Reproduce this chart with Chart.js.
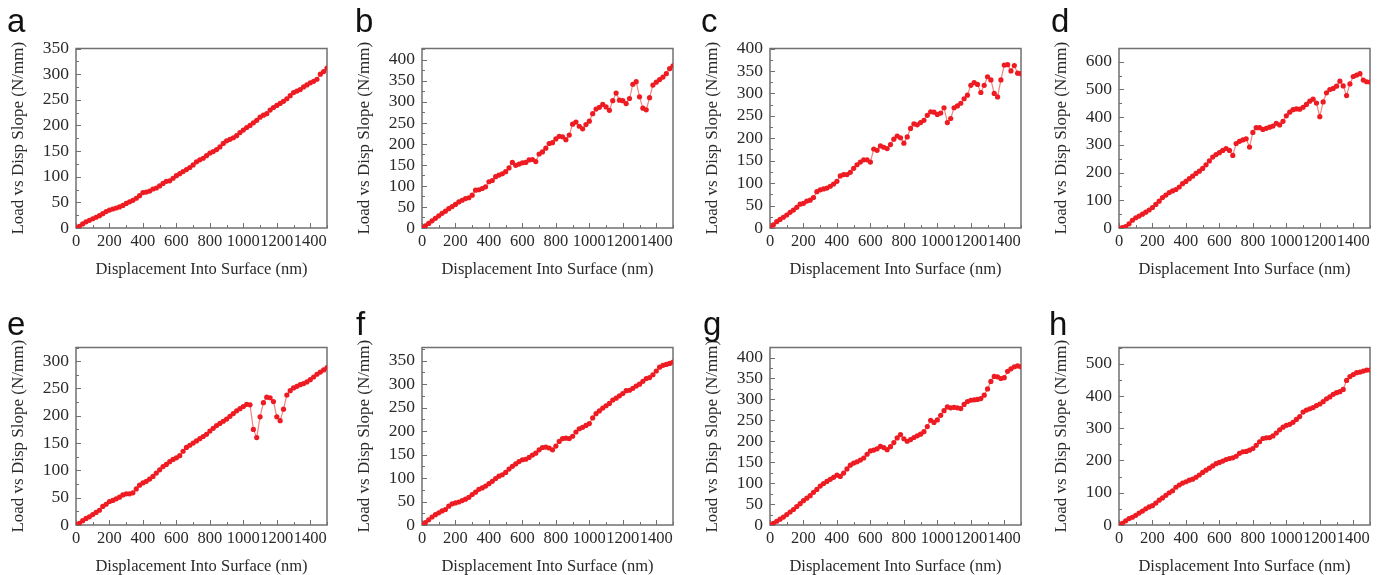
<!DOCTYPE html>
<html lang="en">
<head>
<meta charset="UTF-8" />
<title>Load vs Disp Slope</title>
<script src="https://cdn.jsdelivr.net/npm/chart.js@4.4.1/dist/chart.umd.min.js"></script>
<style>
  html, body { margin: 0; padding: 0; background: #fff; overflow: hidden; }
  body { width: 1379px; height: 575px; position: relative; }
  canvas { position: absolute; }
  .tag { position: absolute; font-family: "Liberation Sans", Arial, sans-serif; font-size: 33px; line-height: 1; color: #111; }
</style>
</head>
<body>
<script>
// displacement into surface (nm), shared by all panels
const depth = [0,20,40,60,80,100,120,140,160,180,200,220,240,260,280,300,320,340,360,380,
  400,420,440,460,480,500,520,540,560,580,600,620,640,660,680,700,720,740,760,780,
  800,820,840,860,880,900,920,940,960,980,1000,1020,1040,1060,1080,1100,1120,1140,1160,1180,
  1200,1220,1240,1260,1280,1300,1320,1340,1360,1380,1400,1420,1440,1460,1480,1500];

// load vs disp slope (N/mm) per panel
const slopeA = [0,3,8,12,15,18,21,24,28,32,35,37,39,41,44,48,51,54,58,63,
  69,70,72,76,78,82,87,91,92,97,102,106,110,114,118,123,129,133,136,141,
  146,149,153,158,165,170,173,176,180,186,191,196,200,205,210,216,220,223,230,235,
  239,243,247,252,258,264,267,270,275,279,283,286,290,300,305,312];
const slopeB = [0,5,11,17,23,29,35,40,46,51,56,62,66,70,72,78,90,91,94,98,
  110,113,122,126,129,134,143,156,149,152,155,156,162,163,158,176,181,190,201,203,
  212,218,217,210,221,247,252,242,236,246,254,272,283,287,294,288,280,303,321,304,
  303,296,308,342,348,312,285,281,310,340,347,353,359,367,379,386];
const slopeC = [0,7,14,19,24,29,35,40,46,53,55,60,62,68,81,85,87,89,93,98,
  104,116,119,119,124,133,141,147,152,152,147,176,173,183,180,177,186,198,205,201,
  189,203,222,232,230,235,240,251,259,258,253,256,268,235,244,268,272,278,288,296,
  318,324,320,302,318,337,330,300,292,330,363,364,350,362,345,344];
const slopeD = [0,1,5,15,28,37,43,50,57,65,74,85,97,110,119,128,134,139,148,160,
  168,178,187,197,205,215,228,242,256,265,272,280,287,280,262,305,313,318,322,292,
  345,362,362,356,360,364,368,378,372,385,405,418,427,430,429,436,446,458,465,451,
  402,455,488,500,504,512,530,513,478,520,547,552,557,534,528,527];
const slopeE = [0,3,8,12,15,19,23,27,34,38,43,45,48,51,55,57,57,59,66,73,
  77,80,84,89,95,101,107,111,116,120,123,127,135,142,146,150,154,158,162,166,
  172,177,182,186,190,194,199,204,209,213,217,221,220,175,160,198,224,234,233,226,
  198,191,212,238,246,251,254,257,259,262,266,271,276,280,284,288];
const slopeF = [0,5,11,17,22,26,30,33,40,45,47,49,52,55,59,65,70,76,79,83,
  88,93,99,104,107,112,119,125,130,135,139,140,144,149,153,160,165,166,164,160,
  168,178,184,185,184,189,198,205,208,212,216,228,237,243,249,254,259,266,270,275,
  280,286,287,291,296,300,306,312,314,320,328,336,340,342,344,347];
const slopeG = [0,4,9,14,19,25,31,37,44,51,58,64,70,78,85,93,99,104,109,114,
  119,116,124,134,143,148,151,155,160,169,177,179,182,188,185,180,187,197,208,216,
  206,200,204,209,213,217,223,235,250,245,251,262,273,282,280,281,280,278,288,295,
  298,299,300,302,310,325,343,355,354,350,352,367,373,378,380,378];
const slopeH = [0,5,13,20,24,30,37,43,50,56,60,68,77,84,92,100,106,117,124,130,
  134,139,142,148,155,163,170,176,183,190,194,198,203,206,208,213,222,227,228,232,
  237,247,258,268,270,271,276,285,295,303,309,312,318,327,336,350,356,360,364,370,
  375,382,391,397,405,410,413,420,448,460,466,472,474,477,480,480];

// tick labels
const xTicks = [0,200,400,600,800,1000,1200,1400];
const yTicks50_300 = [0,50,100,150,200,250,300];
const yTicks50_350 = [0,50,100,150,200,250,300,350];
const yTicks50_400 = [0,50,100,150,200,250,300,350,400];
const yTicks100_500 = [0,100,200,300,400,500];
const yTicks100_600 = [0,100,200,300,400,500,600];

const panels = [
  { tag: 'a', ys: slopeA, yTicks: yTicks50_350, yMax: 350, col: 0, row: 0 },
  { tag: 'b', ys: slopeB, yTicks: yTicks50_400, yMax: 427, col: 1, row: 0 },
  { tag: 'c', ys: slopeC, yTicks: yTicks50_400, yMax: 400, col: 2, row: 0 },
  { tag: 'd', ys: slopeD, yTicks: yTicks100_600, yMax: 648, col: 3, row: 0 },
  { tag: 'e', ys: slopeE, yTicks: yTicks50_300, yMax: 325, col: 0, row: 1 },
  { tag: 'f', ys: slopeF, yTicks: yTicks50_350, yMax: 378, col: 1, row: 1 },
  { tag: 'g', ys: slopeG, yTicks: yTicks50_400, yMax: 424, col: 2, row: 1 },
  { tag: 'h', ys: slopeH, yTicks: yTicks100_500, yMax: 550, col: 3, row: 1 },
];

// layout (pixels)
const colLeft = [76, 422, 770, 1119];
const colRight = [327, 673, 1021, 1370];
const rowTop = [43, 342];
const rowBottom = [228, 525];
const tagLeft = [[7, 355, 701, 1051], [7, 356, 703, 1049]];
const tagTop = [4, 307];
const Y_AXIS = 72, X_AXIS = 56, PAD_TOP = 12, PAD_RIGHT = 8;

const serif = '"Liberation Serif", "Times New Roman", serif';
const textColor = '#2a2a2a';
const frameColor = '#707070';

// box frame with inward ticks, drawn through the chart's scales
const framePlugin = {
  id: 'frame',
  beforeDatasetsDraw(chart) {
    const { ctx, chartArea: a, scales: { x, y } } = chart;
    const xStep = chart.options.plugins.frame.xStep;
    const yStep = chart.options.plugins.frame.yStep;
    ctx.save();
    ctx.strokeStyle = frameColor;
    ctx.lineWidth = 1;
    ctx.beginPath();
    for (let v = 0; v <= x.max; v += xStep / 2) {
      const px = Math.round(x.getPixelForValue(v)) + 0.5;
      const len = v % xStep === 0 ? 5 : 3;
      ctx.moveTo(px, a.bottom);
      ctx.lineTo(px, a.bottom - len);
    }
    for (let v = 0; v <= y.max; v += yStep / 2) {
      const py = Math.round(y.getPixelForValue(v)) + 0.5;
      const len = v % yStep === 0 ? 5 : 3;
      ctx.moveTo(a.left, py);
      ctx.lineTo(a.left + len, py);
    }
    ctx.stroke();
    ctx.lineWidth = 1.5;
    ctx.strokeRect(a.left, a.top, a.right - a.left, a.bottom - a.top);
    ctx.restore();
  }
};

panels.forEach((p) => {
  const w = colRight[p.col] - colLeft[p.col] + Y_AXIS + PAD_RIGHT;
  const h = PAD_TOP + rowBottom[p.row] - rowTop[p.row] + X_AXIS;
  const canvas = document.createElement('canvas');
  canvas.width = w;
  canvas.height = h;
  canvas.style.left = (colLeft[p.col] - Y_AXIS) + 'px';
  canvas.style.top = (rowTop[p.row] - PAD_TOP) + 'px';
  document.body.appendChild(canvas);

  const tag = document.createElement('div');
  tag.className = 'tag';
  tag.textContent = p.tag;
  tag.style.left = tagLeft[p.row][p.col] + 'px';
  tag.style.top = tagTop[p.row] + 'px';
  document.body.appendChild(tag);

  new Chart(canvas, {
    type: 'scatter',
    data: {
      datasets: [{
        data: depth.map((x, i) => ({ x: x, y: p.ys[i] })),
        showLine: true,
        borderColor: 'rgba(240,100,90,0.8)',
        borderWidth: 1.2,
        pointRadius: 2.6,
        pointBackgroundColor: '#ee1b22',
        pointBorderWidth: 0,
        tension: 0,
      }],
    },
    options: {
      responsive: false,
      animation: false,
      layout: { padding: { top: PAD_TOP, right: PAD_RIGHT, left: 0, bottom: 0 } },
      plugins: {
        legend: { display: false },
        tooltip: { enabled: false },
        frame: { xStep: xTicks[1] - xTicks[0], yStep: p.yTicks[1] - p.yTicks[0] },
      },
      scales: {
        x: {
          type: 'linear',
          min: 0,
          max: 1500,
          grid: { display: false, drawTicks: false },
          border: { display: false },
          afterBuildTicks: (s) => { s.ticks = xTicks.map((v) => ({ value: v })); },
          afterFit: (s) => { s.height = X_AXIS; },
          ticks: { font: { family: serif, size: 16.5 }, color: textColor, padding: 4, maxRotation: 0, autoSkip: false,
            callback: (v) => String(v) },
          title: { display: true, text: 'Displacement Into Surface (nm)', font: { family: serif, size: 16.5 }, color: textColor, padding: { top: 0, bottom: 4 } },
        },
        y: {
          type: 'linear',
          min: 0,
          max: p.yMax,
          grid: { display: false, drawTicks: false },
          border: { display: false },
          afterBuildTicks: (s) => { s.ticks = p.yTicks.map((v) => ({ value: v })); },
          afterFit: (s) => { s.width = Y_AXIS; },
          ticks: { font: { family: serif, size: 17.5 }, color: textColor, padding: 7, autoSkip: false,
            callback: (v) => String(v) },
          title: { display: true, text: 'Load vs Disp Slope (N/mm)', font: { family: serif, size: 17 }, color: textColor, padding: { top: 4, bottom: 0 } },
        },
      },
    },
    plugins: [framePlugin],
  });
});
</script>
</body>
</html>
